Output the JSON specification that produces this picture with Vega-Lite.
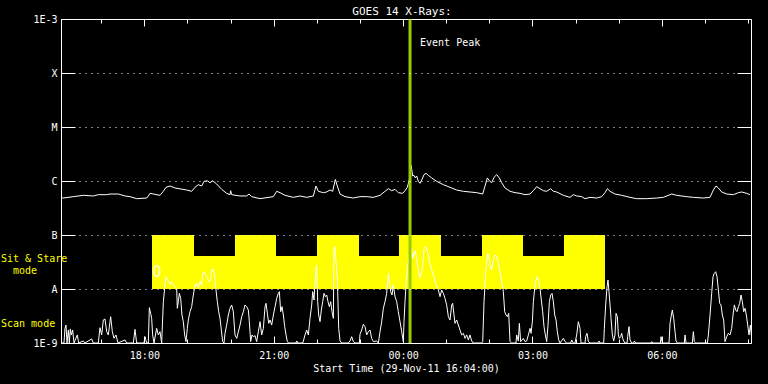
{
  "$schema": "https://vega.github.io/schema/vega-lite/v6.json",
  "width": 690,
  "height": 324,
  "autosize": "none",
  "padding": {"left": 61, "top": 19, "right": 17, "bottom": 41},
  "background": "black",
  "title": {"text": "GOES 14 X-Rays:", "color": "white", "font": "DejaVu Sans Mono", "fontSize": 11, "fontWeight": "normal", "offset": -3, "anchor": "middle", "dx": -4},
  "config": {
    "view": {"stroke": "white", "strokeWidth": 1},
    "axis": {"domain": false, "tickColor": "white", "tickWidth": 1, "labelColor": "white", "titleColor": "white", "labelFont": "DejaVu Sans Mono", "labelFontSize": 10, "titleFont": "DejaVu Sans Mono", "titleFontSize": 10, "titleFontWeight": "normal", "grid": false}
  },
  "datasets": {
    "modes": [
      {"t1": 18.177, "t2": 28.681, "f1": 1e-8, "f2": 4.08e-8},
      {"t1": 18.177, "t2": 19.151, "f1": 4.08e-8, "f2": 1e-7},
      {"t1": 20.101, "t2": 21.052, "f1": 4.08e-8, "f2": 1e-7},
      {"t1": 22.003, "t2": 22.977, "f1": 4.08e-8, "f2": 1e-7},
      {"t1": 23.904, "t2": 24.878, "f1": 4.08e-8, "f2": 1e-7},
      {"t1": 25.829, "t2": 26.780, "f1": 4.08e-8, "f2": 1e-7},
      {"t1": 27.730, "t2": 28.681, "f1": 4.08e-8, "f2": 1e-7}
    ],
    "long": [
      {"t":16.044,"f":4.98e-7},{"t":16.121,"f":4.84e-7},{"t":16.353,"f":5.13e-7},{"t":16.585,"f":5.43e-7},{"t":16.816,"f":5.28e-7},{"t":16.932,"f":5.58e-7},{"t":17.126,"f":5.58e-7},{"t":17.203,"f":5.74e-7},{"t":17.396,"f":5.74e-7},{"t":17.551,"f":5.28e-7},{"t":17.667,"f":5.13e-7},{"t":17.821,"f":4.71e-7},{"t":18.053,"f":4.84e-7},{"t":18.092,"f":5.28e-7},{"t":18.130,"f":5.91e-7},{"t":18.208,"f":5.74e-7},{"t":18.362,"f":5.43e-7},{"t":18.440,"f":6.44e-7},{"t":18.501,"f":7.64e-7},{"t":18.594,"f":8.08e-7},{"t":18.710,"f":7.42e-7},{"t":18.981,"f":6.81e-7},{"t":19.097,"f":6.44e-7},{"t":19.174,"f":7.64e-7},{"t":19.251,"f":8.55e-7},{"t":19.329,"f":8.08e-7},{"t":19.383,"f":9.86e-7},{"t":19.460,"f":1.01e-6},{"t":19.522,"f":9.31e-7},{"t":19.584,"f":1.01e-6},{"t":19.676,"f":8.80e-7},{"t":19.792,"f":7.01e-7},{"t":19.908,"f":5.91e-7},{"t":19.986,"f":5.58e-7},{"t":20.001,"f":6.62e-7},{"t":20.024,"f":5.58e-7},{"t":20.217,"f":5.28e-7},{"t":20.372,"f":5.28e-7},{"t":20.426,"f":5.74e-7},{"t":20.488,"f":5.13e-7},{"t":20.681,"f":4.71e-7},{"t":20.990,"f":5.13e-7},{"t":21.068,"f":6.44e-7},{"t":21.145,"f":6.08e-7},{"t":21.261,"f":5.43e-7},{"t":21.454,"f":4.98e-7},{"t":21.609,"f":5.28e-7},{"t":21.763,"f":4.98e-7},{"t":21.918,"f":5.28e-7},{"t":21.980,"f":8.08e-7},{"t":22.034,"f":6.44e-7},{"t":22.150,"f":6.08e-7},{"t":22.227,"f":6.26e-7},{"t":22.304,"f":6.81e-7},{"t":22.366,"f":6.44e-7},{"t":22.428,"f":1.07e-6},{"t":22.474,"f":8.08e-7},{"t":22.536,"f":5.74e-7},{"t":22.652,"f":5.13e-7},{"t":22.845,"f":4.84e-7},{"t":23.000,"f":5.13e-7},{"t":23.154,"f":5.13e-7},{"t":23.309,"f":4.98e-7},{"t":23.464,"f":5.43e-7},{"t":23.657,"f":7.21e-7},{"t":23.734,"f":6.62e-7},{"t":23.812,"f":7.01e-7},{"t":23.889,"f":6.08e-7},{"t":23.990,"f":5.91e-7},{"t":24.044,"f":6.62e-7},{"t":24.098,"f":7.64e-7},{"t":24.144,"f":1.07e-6},{"t":24.185,"f":1.95e-6},{"t":24.222,"f":1.24e-6},{"t":24.253,"f":1.27e-6},{"t":24.284,"f":1.14e-6},{"t":24.314,"f":1.24e-6},{"t":24.353,"f":9.86e-7},{"t":24.392,"f":9.05e-7},{"t":24.430,"f":1.04e-6},{"t":24.485,"f":1.31e-6},{"t":24.531,"f":1.39e-6},{"t":24.585,"f":1.27e-6},{"t":24.662,"f":1.14e-6},{"t":24.778,"f":9.86e-7},{"t":24.933,"f":8.55e-7},{"t":25.087,"f":7.64e-7},{"t":25.242,"f":6.81e-7},{"t":25.397,"f":6.44e-7},{"t":25.551,"f":6.26e-7},{"t":25.706,"f":6.08e-7},{"t":25.845,"f":5.74e-7},{"t":25.899,"f":8.08e-7},{"t":25.953,"f":1.14e-6},{"t":26.000,"f":1.01e-6},{"t":26.054,"f":9.31e-7},{"t":26.108,"f":1.17e-6},{"t":26.170,"f":1.31e-6},{"t":26.231,"f":1.14e-6},{"t":26.285,"f":9.31e-7},{"t":26.363,"f":7.42e-7},{"t":26.479,"f":6.44e-7},{"t":26.595,"f":6.08e-7},{"t":26.711,"f":5.91e-7},{"t":26.827,"f":5.58e-7},{"t":26.942,"f":5.74e-7},{"t":27.020,"f":6.62e-7},{"t":27.097,"f":7.85e-7},{"t":27.174,"f":7.21e-7},{"t":27.252,"f":6.62e-7},{"t":27.329,"f":6.44e-7},{"t":27.422,"f":7.21e-7},{"t":27.484,"f":6.44e-7},{"t":27.561,"f":6.26e-7},{"t":27.715,"f":5.43e-7},{"t":27.870,"f":4.98e-7},{"t":27.947,"f":5.58e-7},{"t":28.025,"f":5.28e-7},{"t":28.141,"f":5.13e-7},{"t":28.218,"f":4.71e-7},{"t":28.334,"f":4.98e-7},{"t":28.488,"f":4.84e-7},{"t":28.604,"f":5.13e-7},{"t":28.682,"f":6.08e-7},{"t":28.736,"f":7.21e-7},{"t":28.798,"f":6.44e-7},{"t":28.913,"f":5.74e-7},{"t":29.068,"f":5.43e-7},{"t":29.261,"f":4.98e-7},{"t":29.416,"f":4.71e-7},{"t":29.648,"f":4.71e-7},{"t":29.880,"f":4.84e-7},{"t":30.034,"f":4.98e-7},{"t":30.228,"f":5.74e-7},{"t":30.343,"f":5.43e-7},{"t":30.575,"f":5.13e-7},{"t":30.730,"f":4.98e-7},{"t":30.962,"f":4.84e-7},{"t":31.116,"f":4.98e-7},{"t":31.194,"f":6.81e-7},{"t":31.256,"f":8.08e-7},{"t":31.310,"f":7.42e-7},{"t":31.387,"f":6.26e-7},{"t":31.503,"f":5.74e-7},{"t":31.658,"f":5.58e-7},{"t":31.774,"f":6.08e-7},{"t":31.851,"f":6.26e-7},{"t":31.967,"f":5.91e-7},{"t":32.044,"f":5.58e-7}
    ],
    "short": [
      {"t":16.044,"f":1e-9},{"t":16.136,"f":1e-9},{"t":16.159,"f":1.87e-9},{"t":16.183,"f":2.15e-9},{"t":16.206,"f":1e-9},{"t":16.237,"f":1.74e-9},{"t":16.260,"f":1e-9},{"t":16.283,"f":1.82e-9},{"t":16.306,"f":1.41e-9},{"t":16.337,"f":1.74e-9},{"t":16.368,"f":1e-9},{"t":16.445,"f":1.41e-9},{"t":16.476,"f":1e-9},{"t":16.585,"f":1.09e-9},{"t":16.623,"f":1e-9},{"t":16.778,"f":1.19e-9},{"t":16.816,"f":1e-9},{"t":16.932,"f":1e-9},{"t":16.971,"f":1.92e-9},{"t":17.010,"f":1.41e-9},{"t":17.048,"f":2.67e-9},{"t":17.087,"f":2.78e-9},{"t":17.126,"f":1.62e-9},{"t":17.164,"f":1.41e-9},{"t":17.218,"f":3.07e-9},{"t":17.257,"f":1.62e-9},{"t":17.296,"f":1.22e-9},{"t":17.342,"f":1.41e-9},{"t":17.388,"f":1e-9},{"t":17.551,"f":1.14e-9},{"t":17.589,"f":1e-9},{"t":17.744,"f":1e-9},{"t":17.783,"f":1.79e-9},{"t":17.821,"f":1e-9},{"t":17.991,"f":1e-9},{"t":18.014,"f":1.31e-9},{"t":18.053,"f":1e-9},{"t":18.092,"f":1e-9},{"t":18.115,"f":4.51e-9},{"t":18.146,"f":3.54e-9},{"t":18.169,"f":2.86e-9},{"t":18.192,"f":1.41e-9},{"t":18.223,"f":1e-9},{"t":18.285,"f":1.87e-9},{"t":18.324,"f":1.41e-9},{"t":18.362,"f":1.62e-9},{"t":18.401,"f":1e-9},{"t":18.440,"f":5.83e-9},{"t":18.478,"f":1.19e-8},{"t":18.501,"f":1.69e-8},{"t":18.532,"f":1.58e-8},{"t":18.556,"f":1.37e-8},{"t":18.594,"f":1.22e-8},{"t":18.633,"f":1.37e-8},{"t":18.671,"f":1.19e-8},{"t":18.710,"f":1.11e-8},{"t":18.749,"f":1.03e-8},{"t":18.764,"f":4.39e-9},{"t":18.787,"f":5.83e-9},{"t":18.811,"f":8.31e-9},{"t":18.842,"f":6.72e-9},{"t":18.872,"f":3.30e-9},{"t":18.903,"f":2.48e-9},{"t":18.934,"f":1.41e-9},{"t":18.965,"f":1.06e-9},{"t":18.996,"f":1.87e-9},{"t":19.019,"f":2.67e-9},{"t":19.058,"f":3.80e-9},{"t":19.097,"f":4.71e-9},{"t":19.135,"f":7.74e-9},{"t":19.174,"f":1.19e-8},{"t":19.213,"f":1.27e-8},{"t":19.251,"f":1.06e-8},{"t":19.290,"f":1.37e-8},{"t":19.329,"f":1.19e-8},{"t":19.352,"f":1.87e-8},{"t":19.383,"f":2.09e-8},{"t":19.414,"f":1.95e-8},{"t":19.444,"f":1.69e-8},{"t":19.483,"f":1.47e-8},{"t":19.506,"f":1.37e-8},{"t":19.537,"f":1.58e-8},{"t":19.568,"f":2.25e-8},{"t":19.599,"f":2.34e-8},{"t":19.630,"f":1.82e-8},{"t":19.661,"f":9.58e-9},{"t":19.692,"f":5.83e-9},{"t":19.723,"f":3.80e-9},{"t":19.754,"f":2.86e-9},{"t":19.785,"f":1.74e-9},{"t":19.815,"f":1.06e-9},{"t":19.846,"f":1e-9},{"t":19.870,"f":1.51e-9},{"t":19.908,"f":2.15e-9},{"t":19.947,"f":3.30e-9},{"t":19.986,"f":4.39e-9},{"t":20.024,"f":5.06e-9},{"t":20.063,"f":3.80e-9},{"t":20.101,"f":1.41e-9},
      {"t":20.141,"f":1.22e-9},{"t":20.218,"f":2.15e-9},{"t":20.257,"f":3.07e-9},{"t":20.295,"f":3.80e-9},{"t":20.334,"f":5.06e-9},{"t":20.373,"f":4.71e-9},{"t":20.411,"f":4.08e-9},{"t":20.434,"f":2.48e-9},{"t":20.465,"f":1.06e-9},{"t":20.496,"f":1.41e-9},{"t":20.527,"f":1.31e-9},{"t":20.566,"f":1.37e-9},{"t":20.604,"f":1.06e-9},{"t":20.643,"f":1.62e-9},{"t":20.682,"f":2.48e-9},{"t":20.720,"f":1.41e-9},{"t":20.759,"f":1.87e-9},{"t":20.798,"f":4.71e-9},{"t":20.821,"f":5.43e-9},{"t":20.852,"f":3.54e-9},{"t":20.883,"f":2.31e-9},{"t":20.914,"f":2.67e-9},{"t":20.952,"f":2.15e-9},{"t":20.991,"f":3.30e-9},{"t":21.030,"f":4.71e-9},{"t":21.068,"f":6.72e-9},{"t":21.107,"f":8.31e-9},{"t":21.130,"f":8.93e-9},{"t":21.161,"f":3.80e-9},{"t":21.192,"f":4.71e-9},{"t":21.223,"f":3.30e-9},{"t":21.254,"f":2.01e-9},{"t":21.285,"f":1.41e-9},{"t":21.315,"f":1.06e-9},{"t":21.346,"f":1e-9},{"t":21.516,"f":1e-9},{"t":21.532,"f":1.09e-9},{"t":21.563,"f":1e-9},{"t":21.671,"f":1e-9},{"t":21.687,"f":1.09e-9},{"t":21.725,"f":1.41e-9},{"t":21.764,"f":1.74e-9},{"t":21.802,"f":1.41e-9},{"t":21.841,"f":2.86e-9},{"t":21.880,"f":5.06e-9},{"t":21.903,"f":8.93e-9},{"t":21.934,"f":6.25e-9},{"t":21.957,"f":1.37e-8},{"t":21.980,"f":2.41e-8},{"t":21.996,"f":2.78e-8},{"t":22.019,"f":5.83e-9},{"t":22.042,"f":3.30e-9},{"t":22.073,"f":2.48e-9},{"t":22.104,"f":4.08e-9},{"t":22.135,"f":5.83e-9},{"t":22.166,"f":8.31e-9},{"t":22.197,"f":7.21e-9},{"t":22.228,"f":7.74e-9},{"t":22.258,"f":5.83e-9},{"t":22.289,"f":4.71e-9},{"t":22.320,"f":5.83e-9},{"t":22.351,"f":3.80e-9},{"t":22.382,"f":2.86e-9},{"t":22.397,"f":5.66e-8},{"t":22.421,"f":6.08e-8},{"t":22.444,"f":3.21e-8},{"t":22.475,"f":1.58e-8},{"t":22.506,"f":1.87e-9},{"t":22.537,"f":1.09e-9},{"t":22.575,"f":1e-9},{"t":22.730,"f":1e-9},{"t":22.769,"f":1.09e-9},{"t":22.807,"f":1.31e-9},{"t":22.846,"f":1.06e-9},{"t":22.885,"f":1e-9},{"t":22.985,"f":1e-9},{"t":23.000,"f":1.45e-9},{"t":23.039,"f":1.74e-9},{"t":23.078,"f":2.22e-9},{"t":23.116,"f":2.01e-9},{"t":23.155,"f":1.41e-9},{"t":23.194,"f":1.62e-9},{"t":23.232,"f":1.74e-9},{"t":23.271,"f":1.22e-9},{"t":23.310,"f":1.06e-9},{"t":23.387,"f":1.09e-9},{"t":23.426,"f":1e-9},{"t":23.464,"f":1.62e-9},{"t":23.503,"f":2.48e-9},{"t":23.542,"f":4.39e-9},{"t":23.580,"f":5.83e-9},{"t":23.619,"f":8.31e-9},{"t":23.658,"f":1.95e-8},{"t":23.681,"f":1.37e-8},{"t":23.712,"f":8.93e-9},{"t":23.743,"f":7.74e-9},{"t":23.773,"f":1.19e-8},{"t":23.812,"f":7.21e-9},{"t":23.851,"f":5.83e-9},{"t":23.889,"f":3.80e-9},{"t":23.928,"f":2.48e-9},{"t":23.967,"f":1.62e-9},{"t":24.005,"f":1.06e-9},
      {"t":24.021,"f":2.48e-9},{"t":24.044,"f":5.83e-9},{"t":24.067,"f":1.19e-8},{"t":24.098,"f":2.41e-8},{"t":24.137,"f":3.70e-8},{"t":24.175,"f":5.27e-8},{"t":24.199,"f":5.66e-8},{"t":24.222,"f":3.70e-8},{"t":24.253,"f":4.57e-8},{"t":24.276,"f":5.06e-8},{"t":24.299,"f":4.26e-8},{"t":24.330,"f":2.99e-8},{"t":24.361,"f":2.09e-8},{"t":24.392,"f":1.58e-8},{"t":24.423,"f":1.95e-8},{"t":24.454,"f":2.78e-8},{"t":24.485,"f":5.66e-8},{"t":24.515,"f":6.08e-8},{"t":24.546,"f":5.66e-8},{"t":24.585,"f":4.26e-8},{"t":24.624,"f":2.99e-8},{"t":24.662,"f":2.25e-8},{"t":24.701,"f":1.82e-8},{"t":24.740,"f":1.37e-8},{"t":24.778,"f":1.11e-8},{"t":24.817,"f":9.58e-9},{"t":24.856,"f":7.21e-9},{"t":24.894,"f":9.58e-9},{"t":24.933,"f":8.31e-9},{"t":24.971,"f":6.72e-9},{"t":25.010,"f":5.06e-9},{"t":25.049,"f":3.07e-9},{"t":25.087,"f":2.67e-9},{"t":25.126,"f":5.06e-9},{"t":25.149,"f":5.43e-9},{"t":25.180,"f":3.30e-9},{"t":25.203,"f":2.31e-9},{"t":25.242,"f":2.67e-9},{"t":25.281,"f":2.15e-9},{"t":25.319,"f":1.74e-9},{"t":25.358,"f":1.41e-9},{"t":25.397,"f":1.51e-9},{"t":25.435,"f":1.22e-9},{"t":25.474,"f":1.41e-9},{"t":25.513,"f":1.14e-9},{"t":25.551,"f":1.41e-9},{"t":25.590,"f":1.09e-9},{"t":25.629,"f":1e-9},{"t":25.822,"f":1e-9},{"t":25.845,"f":1.06e-9},{"t":25.876,"f":5.83e-9},{"t":25.907,"f":1.58e-8},{"t":25.938,"f":3.21e-8},{"t":25.961,"f":4.57e-8},{"t":25.984,"f":4.26e-8},{"t":26.015,"f":2.78e-8},{"t":26.054,"f":2.25e-8},{"t":26.092,"f":3.44e-8},{"t":26.131,"f":4.26e-8},{"t":26.170,"f":3.97e-8},{"t":26.208,"f":2.99e-8},{"t":26.247,"f":2.09e-8},{"t":26.286,"f":1.37e-8},{"t":26.324,"f":8.93e-9},{"t":26.355,"f":3.80e-9},{"t":26.386,"f":3.30e-9},{"t":26.417,"f":3.07e-9},{"t":26.448,"f":3.54e-9},{"t":26.479,"f":1.06e-9},{"t":26.517,"f":1e-9},{"t":26.618,"f":1e-9},{"t":26.633,"f":1.41e-9},{"t":26.672,"f":1.09e-9},{"t":26.695,"f":2.31e-9},{"t":26.726,"f":1.06e-9},{"t":26.788,"f":1.22e-9},{"t":26.827,"f":1.06e-9},{"t":26.865,"f":1.09e-9},{"t":26.904,"f":1.41e-9},{"t":26.943,"f":1.87e-9},{"t":26.966,"f":1.51e-9},{"t":26.997,"f":2.48e-9},{"t":27.020,"f":5.83e-9},{"t":27.051,"f":1.03e-8},{"t":27.082,"f":1.47e-8},{"t":27.113,"f":1.69e-8},{"t":27.143,"f":1.37e-8},{"t":27.174,"f":1.03e-8},{"t":27.205,"f":6.25e-9},{"t":27.236,"f":3.80e-9},{"t":27.267,"f":2.01e-9},{"t":27.298,"f":1.41e-9},{"t":27.329,"f":1.06e-9},{"t":27.360,"f":2.15e-9},{"t":27.391,"f":5.83e-9},{"t":27.422,"f":7.74e-9},{"t":27.453,"f":8.31e-9},{"t":27.484,"f":5.83e-9},{"t":27.515,"f":3.30e-9},{"t":27.546,"f":2.67e-9},{"t":27.576,"f":1.62e-9},{"t":27.607,"f":1.14e-9},{"t":27.638,"f":1e-9},{"t":27.716,"f":1.22e-9},{"t":27.754,"f":1.06e-9},{"t":27.793,"f":1e-9},{"t":27.886,"f":1e-9},{"t":27.909,"f":1.14e-9},{"t":27.947,"f":1e-9},
      {"t":27.986,"f":1e-9},{"t":28.025,"f":1.41e-9},{"t":28.063,"f":2.48e-9},{"t":28.102,"f":1.87e-9},{"t":28.125,"f":1e-9},{"t":28.218,"f":1e-9},{"t":28.233,"f":1.31e-9},{"t":28.264,"f":1.51e-9},{"t":28.295,"f":1.06e-9},{"t":28.334,"f":1e-9},{"t":28.512,"f":1e-9},{"t":28.542,"f":1.09e-9},{"t":28.566,"f":1e-9},{"t":28.651,"f":1e-9},{"t":28.666,"f":1.87e-9},{"t":28.697,"f":5.06e-9},{"t":28.728,"f":1.11e-8},{"t":28.751,"f":1.47e-8},{"t":28.774,"f":8.93e-9},{"t":28.798,"f":5.06e-9},{"t":28.821,"f":2.86e-9},{"t":28.852,"f":1.41e-9},{"t":28.883,"f":1.09e-9},{"t":28.913,"f":1.41e-9},{"t":28.937,"f":3.54e-9},{"t":28.968,"f":3.07e-9},{"t":28.991,"f":1.41e-9},{"t":29.014,"f":1.22e-9},{"t":29.045,"f":1.31e-9},{"t":29.068,"f":1.51e-9},{"t":29.091,"f":1.22e-9},{"t":29.115,"f":1.09e-9},{"t":29.145,"f":1e-9},{"t":29.192,"f":1e-9},{"t":29.207,"f":1.31e-9},{"t":29.238,"f":2.01e-9},{"t":29.261,"f":1.14e-9},{"t":29.300,"f":1e-9},{"t":29.346,"f":1e-9},{"t":29.362,"f":1.09e-9},{"t":29.393,"f":1e-9},{"t":29.748,"f":1e-9},{"t":29.764,"f":1.06e-9},{"t":29.795,"f":1e-9},{"t":29.965,"f":1e-9},{"t":29.980,"f":1.31e-9},{"t":30.011,"f":1e-9},{"t":30.166,"f":1e-9},{"t":30.189,"f":2.31e-9},{"t":30.220,"f":3.30e-9},{"t":30.243,"f":4.08e-9},{"t":30.274,"f":2.86e-9},{"t":30.305,"f":1.62e-9},{"t":30.328,"f":1.09e-9},{"t":30.359,"f":1e-9},{"t":30.521,"f":1e-9},{"t":30.537,"f":1.41e-9},{"t":30.560,"f":1e-9},{"t":30.707,"f":1e-9},{"t":30.730,"f":1.62e-9},{"t":30.753,"f":1.06e-9},{"t":30.784,"f":1e-9},{"t":31.055,"f":1e-9},{"t":31.078,"f":1.41e-9},{"t":31.117,"f":3.30e-9},{"t":31.155,"f":8.31e-9},{"t":31.186,"f":1.69e-8},{"t":31.217,"f":1.95e-8},{"t":31.248,"f":2.09e-8},{"t":31.279,"f":1.69e-8},{"t":31.310,"f":9.58e-9},{"t":31.341,"f":5.43e-9},{"t":31.372,"f":5.06e-9},{"t":31.402,"f":3.30e-9},{"t":31.433,"f":2.67e-9},{"t":31.464,"f":1.06e-9},{"t":31.503,"f":1.31e-9},{"t":31.542,"f":1.51e-9},{"t":31.580,"f":1.41e-9},{"t":31.619,"f":1.87e-9},{"t":31.650,"f":3.30e-9},{"t":31.681,"f":5.06e-9},{"t":31.712,"f":4.08e-9},{"t":31.743,"f":3.80e-9},{"t":31.774,"f":4.71e-9},{"t":31.805,"f":5.43e-9},{"t":31.835,"f":7.74e-9},{"t":31.866,"f":5.83e-9},{"t":31.897,"f":3.80e-9},{"t":31.928,"f":4.39e-9},{"t":31.959,"f":3.30e-9},{"t":31.990,"f":2.15e-9},{"t":32.021,"f":1.41e-9},{"t":32.052,"f":2.15e-9},{"t":32.083,"f":1.22e-9}
    ],
    "event": [{"t": 24.16, "f": 3.6e-4, "label": "Event Peak"}],
    "modelabels": [
      {"t": 16.0667, "f": 3.67e-8, "label": "Sit & Stare"},
      {"t": 16.0667, "f": 2.25e-9, "label": "Scan mode"}
    ],
    "modelabels2": [
      {"t": 16.0667, "f": 2.15e-8, "label": "mode"}
    ],
    "marker": [
      {"t": 18.293, "f": 2.07e-8, "label": "O"}
    ]
  },
  "resolve": {"axis": {"x": "independent", "y": "independent"}},
  "layer": [
    {
      "data": {"name": "modes"},
      "mark": {"type": "rect", "color": "#ffff00"},
      "encoding": {
        "x": {"field": "t1", "type": "quantitative", "scale": {"domain": [16.0667, 32.0667], "nice": false, "zero": false},
              "axis": {"orient": "bottom", "values": [18, 21, 24, 27, 30], "tickSize": -7, "labelPadding": 14, "labelExpr": "(datum.value % 24 < 10 ? '0' : '') + (datum.value % 24) + ':00'", "title": "Start Time (29-Nov-11 16:04:00)", "titlePadding": 3, "zindex": 1}},
        "x2": {"field": "t2"},
        "y": {"field": "f1", "type": "quantitative", "scale": {"type": "log", "domain": [1e-9, 1e-3], "nice": false},
              "axis": {"orient": "left", "values": [1e-9, 1e-8, 1e-7, 1e-6, 1e-5, 1e-4, 1e-3], "tickSize": -14, "labelPadding": 18, "grid": true, "gridColor": "white", "gridDash": [1, 5], "gridWidth": 1, "gridOpacity": 1, "labelExpr": "datum.value < 2e-9 ? '1E-9' : datum.value < 2e-8 ? 'A' : datum.value < 2e-7 ? 'B' : datum.value < 2e-6 ? 'C' : datum.value < 2e-5 ? 'M' : datum.value < 2e-4 ? 'X' : '1E-3'", "title": null, "zindex": 1}},
        "y2": {"field": "f2"}
      }
    },
    {
      "data": {"name": "marker"},
      "mark": {"type": "text", "color": "#ffffdd", "font": "DejaVu Sans Mono", "fontSize": 15, "align": "center", "baseline": "middle"},
      "encoding": {
        "x": {"field": "t", "type": "quantitative", "scale": {"domain": [16.0667, 32.0667], "nice": false, "zero": false}, "axis": null},
        "y": {"field": "f", "type": "quantitative", "scale": {"type": "log", "domain": [1e-9, 1e-3], "nice": false}, "axis": null},
        "text": {"field": "label"}
      }
    },
    {
      "data": {"name": "long"},
      "mark": {"type": "line", "color": "white", "strokeWidth": 1, "clip": true},
      "encoding": {
        "x": {"field": "t", "type": "quantitative", "scale": {"domain": [16.0667, 32.0667], "nice": false, "zero": false},
              "axis": {"orient": "top", "values": [18, 21, 24, 27, 30], "tickSize": -7, "labels": false, "title": null, "zindex": 1}},
        "y": {"field": "f", "type": "quantitative", "scale": {"type": "log", "domain": [1e-9, 1e-3], "nice": false},
              "axis": {"orient": "right", "values": [1e-9, 1e-8, 1e-7, 1e-6, 1e-5, 1e-4, 1e-3], "tickSize": -14, "labels": false, "title": null, "zindex": 1}}
      }
    },
    {
      "data": {"name": "short"},
      "mark": {"type": "line", "color": "white", "strokeWidth": 1, "clip": true},
      "encoding": {
        "x": {"field": "t", "type": "quantitative", "scale": {"domain": [16.0667, 32.0667], "nice": false, "zero": false},
              "axis": {"orient": "bottom", "values": [17, 18, 19, 20, 21, 22, 23, 24, 25, 26, 27, 28, 29, 30, 31, 32], "tickSize": -4, "labels": false, "title": null, "zindex": 1}},
        "y": {"field": "f", "type": "quantitative", "scale": {"type": "log", "domain": [1e-9, 1e-3], "nice": false}, "axis": null}
      }
    },
    {
      "data": {"name": "event"},
      "mark": {"type": "rule", "color": "#99cc00", "strokeWidth": 3},
      "encoding": {
        "x": {"field": "t", "type": "quantitative", "scale": {"domain": [16.0667, 32.0667], "nice": false, "zero": false},
              "axis": {"orient": "top", "values": [17, 18, 19, 20, 21, 22, 23, 24, 25, 26, 27, 28, 29, 30, 31, 32], "tickSize": -4, "labels": false, "title": null, "zindex": 1}}
      }
    },
    {
      "data": {"name": "event"},
      "mark": {"type": "text", "color": "white", "font": "DejaVu Sans Mono", "fontSize": 10, "align": "left", "baseline": "middle", "dx": 10},
      "encoding": {
        "x": {"field": "t", "type": "quantitative", "scale": {"domain": [16.0667, 32.0667], "nice": false, "zero": false}, "axis": null},
        "y": {"field": "f", "type": "quantitative", "scale": {"type": "log", "domain": [1e-9, 1e-3], "nice": false}, "axis": null},
        "text": {"field": "label"}
      }
    },
    {
      "data": {"name": "modelabels"},
      "mark": {"type": "text", "color": "#ffff00", "font": "DejaVu Sans Mono", "fontSize": 10, "align": "left", "baseline": "middle", "dx": -60},
      "encoding": {
        "x": {"field": "t", "type": "quantitative", "scale": {"domain": [16.0667, 32.0667], "nice": false, "zero": false}, "axis": null},
        "y": {"field": "f", "type": "quantitative", "scale": {"type": "log", "domain": [1e-9, 1e-3], "nice": false}, "axis": null},
        "text": {"field": "label"}
      }
    },
    {
      "data": {"name": "modelabels2"},
      "mark": {"type": "text", "color": "#ffff00", "font": "DejaVu Sans Mono", "fontSize": 10, "align": "left", "baseline": "middle", "dx": -48},
      "encoding": {
        "x": {"field": "t", "type": "quantitative", "scale": {"domain": [16.0667, 32.0667], "nice": false, "zero": false}, "axis": null},
        "y": {"field": "f", "type": "quantitative", "scale": {"type": "log", "domain": [1e-9, 1e-3], "nice": false}, "axis": null},
        "text": {"field": "label"}
      }
    }
  ]
}
